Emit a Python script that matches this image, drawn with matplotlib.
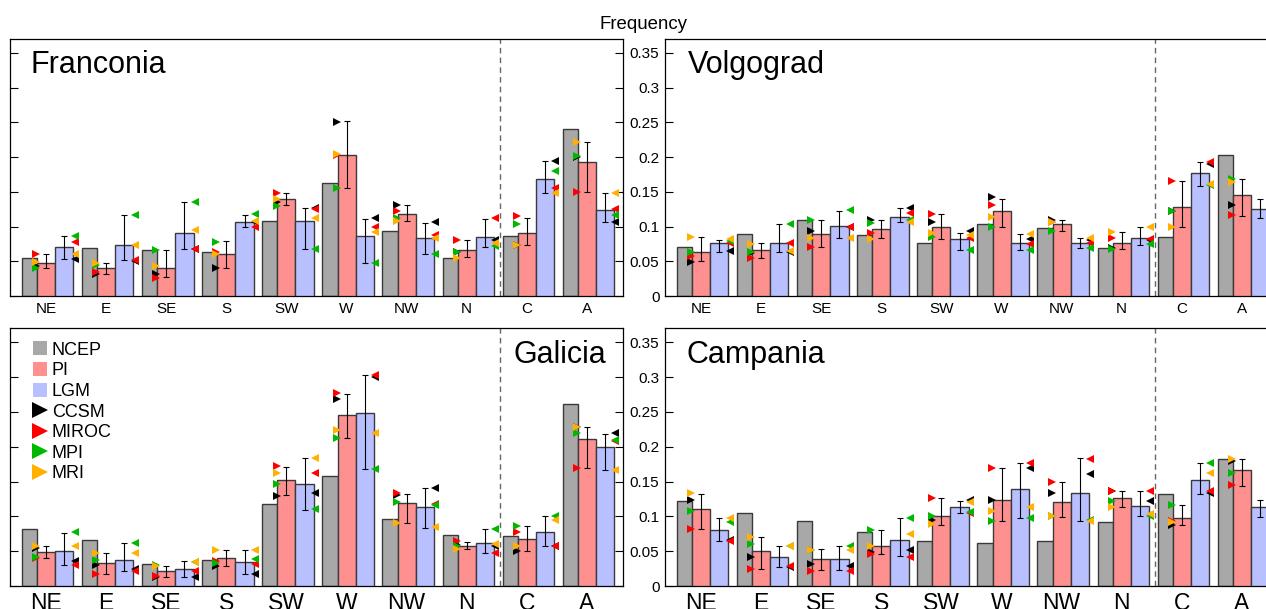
import numpy as np
import matplotlib
matplotlib.use("Agg")
import matplotlib.pyplot as plt
from matplotlib.lines import Line2D

plt.rcParams['font.family'] = ['Liberation Sans', 'DejaVu Sans']

types = ["NE", "E", "SE", "S", "SW", "W", "NW", "N", "C", "A"]
models = ["CCSM", "MIROC", "MPI", "MRI"]
model_colors = ["#000000", "#ff0000", "#00b800", "#ffb000"]

# ---- Franconia
fra_ncep = [0.054, 0.069, 0.066, 0.064, 0.108, 0.162, 0.093, 0.054, 0.086, 0.241]
fra_pi = [0.048, 0.040, 0.041, 0.060, 0.139, 0.203, 0.118, 0.066, 0.091, 0.193]
fra_lgm = [0.070, 0.074, 0.091, 0.107, 0.108, 0.087, 0.084, 0.085, 0.169, 0.124]
fra_pi_lo = [0.041, 0.031, 0.027, 0.041, 0.131, 0.155, 0.108, 0.056, 0.073, 0.150]
fra_pi_hi = [0.060, 0.047, 0.066, 0.079, 0.149, 0.252, 0.131, 0.080, 0.113, 0.221]
fra_lgm_lo = [0.053, 0.052, 0.067, 0.100, 0.067, 0.048, 0.060, 0.071, 0.148, 0.106]
fra_lgm_hi = [0.087, 0.116, 0.135, 0.116, 0.126, 0.111, 0.105, 0.111, 0.194, 0.149]
fra_pi_ccsm = [0.043, 0.031, 0.032, 0.041, 0.136, 0.251, 0.131, 0.064, 0.073, 0.200]
fra_pi_miroc = [0.060, 0.034, 0.026, 0.064, 0.149, 0.203, 0.122, 0.080, 0.115, 0.150]
fra_pi_mpi = [0.041, 0.045, 0.066, 0.078, 0.130, 0.155, 0.113, 0.064, 0.103, 0.202]
fra_pi_mri = [0.049, 0.048, 0.043, 0.060, 0.139, 0.204, 0.108, 0.055, 0.074, 0.221]
fra_lgm_ccsm = [0.053, 0.051, 0.067, 0.106, 0.126, 0.112, 0.106, 0.080, 0.194, 0.106]
fra_lgm_miroc = [0.078, 0.052, 0.067, 0.100, 0.125, 0.099, 0.088, 0.112, 0.155, 0.125]
fra_lgm_mpi = [0.087, 0.117, 0.135, 0.118, 0.068, 0.048, 0.061, 0.072, 0.180, 0.117]
fra_lgm_mri = [0.061, 0.074, 0.095, 0.108, 0.113, 0.092, 0.083, 0.076, 0.148, 0.149]

# ---- Volgograd
vol_ncep = [0.071, 0.089, 0.109, 0.088, 0.077, 0.103, 0.098, 0.069, 0.085, 0.203]
vol_pi = [0.064, 0.066, 0.089, 0.096, 0.100, 0.122, 0.103, 0.077, 0.128, 0.145]
vol_lgm = [0.076, 0.077, 0.101, 0.114, 0.082, 0.077, 0.077, 0.083, 0.177, 0.125]
vol_pi_lo = [0.050, 0.054, 0.070, 0.083, 0.082, 0.100, 0.094, 0.067, 0.100, 0.115]
vol_pi_hi = [0.085, 0.076, 0.110, 0.109, 0.118, 0.140, 0.109, 0.092, 0.166, 0.168]
vol_lgm_lo = [0.064, 0.064, 0.083, 0.106, 0.066, 0.066, 0.069, 0.074, 0.159, 0.113]
vol_lgm_hi = [0.081, 0.103, 0.123, 0.126, 0.090, 0.089, 0.083, 0.100, 0.193, 0.139]
vol_pi_ccsm = [0.049, 0.062, 0.093, 0.110, 0.107, 0.142, 0.110, 0.069, 0.122, 0.131]
vol_pi_miroc = [0.057, 0.055, 0.070, 0.090, 0.118, 0.131, 0.107, 0.083, 0.166, 0.116]
vol_pi_mpi = [0.064, 0.063, 0.110, 0.105, 0.085, 0.100, 0.093, 0.068, 0.122, 0.169]
vol_pi_mri = [0.085, 0.075, 0.083, 0.082, 0.090, 0.114, 0.106, 0.092, 0.100, 0.164]
vol_lgm_ccsm = [0.065, 0.064, 0.099, 0.126, 0.093, 0.082, 0.081, 0.081, 0.190, 0.114]
vol_lgm_miroc = [0.076, 0.076, 0.100, 0.119, 0.083, 0.075, 0.077, 0.082, 0.193, 0.130]
vol_lgm_mpi = [0.079, 0.104, 0.124, 0.109, 0.066, 0.066, 0.069, 0.075, 0.160, 0.125]
vol_lgm_mri = [0.082, 0.065, 0.083, 0.106, 0.088, 0.089, 0.083, 0.100, 0.161, 0.140]

# ---- Galicia
gal_ncep = [0.082, 0.066, 0.031, 0.038, 0.118, 0.158, 0.096, 0.073, 0.072, 0.261]
gal_pi = [0.049, 0.033, 0.021, 0.040, 0.152, 0.245, 0.119, 0.057, 0.068, 0.211]
gal_lgm = [0.050, 0.038, 0.025, 0.035, 0.146, 0.248, 0.114, 0.062, 0.078, 0.200]
gal_pi_lo = [0.040, 0.017, 0.013, 0.028, 0.130, 0.213, 0.090, 0.053, 0.050, 0.170]
gal_pi_hi = [0.057, 0.047, 0.029, 0.051, 0.171, 0.276, 0.132, 0.063, 0.086, 0.229]
gal_lgm_lo = [0.030, 0.022, 0.013, 0.017, 0.109, 0.168, 0.083, 0.047, 0.058, 0.167]
gal_lgm_hi = [0.076, 0.062, 0.036, 0.051, 0.184, 0.303, 0.141, 0.082, 0.100, 0.218]
gal_pi_ccsm = [0.055, 0.030, 0.013, 0.028, 0.129, 0.269, 0.131, 0.059, 0.050, 0.229]
gal_pi_miroc = [0.040, 0.017, 0.014, 0.036, 0.172, 0.277, 0.133, 0.064, 0.078, 0.170]
gal_pi_mpi = [0.042, 0.038, 0.030, 0.033, 0.147, 0.213, 0.121, 0.057, 0.086, 0.219]
gal_pi_mri = [0.057, 0.047, 0.028, 0.051, 0.162, 0.224, 0.091, 0.053, 0.058, 0.229]
gal_lgm_ccsm = [0.036, 0.024, 0.013, 0.017, 0.133, 0.300, 0.141, 0.057, 0.058, 0.219]
gal_lgm_miroc = [0.030, 0.022, 0.022, 0.032, 0.162, 0.303, 0.118, 0.047, 0.058, 0.208]
gal_lgm_mpi = [0.077, 0.062, 0.034, 0.039, 0.110, 0.168, 0.116, 0.082, 0.101, 0.210]
gal_lgm_mri = [0.057, 0.047, 0.035, 0.051, 0.184, 0.219, 0.084, 0.061, 0.095, 0.167]

# ---- Campania
cam_ncep = [0.122, 0.105, 0.093, 0.078, 0.065, 0.062, 0.064, 0.092, 0.132, 0.182]
cam_pi = [0.111, 0.050, 0.039, 0.057, 0.101, 0.123, 0.120, 0.126, 0.097, 0.167]
cam_lgm = [0.080, 0.042, 0.039, 0.066, 0.113, 0.139, 0.134, 0.115, 0.152, 0.113]
cam_pi_lo = [0.082, 0.024, 0.023, 0.046, 0.088, 0.093, 0.099, 0.113, 0.087, 0.144]
cam_pi_hi = [0.132, 0.071, 0.053, 0.080, 0.126, 0.170, 0.149, 0.136, 0.116, 0.182]
cam_lgm_lo = [0.064, 0.027, 0.023, 0.043, 0.105, 0.097, 0.093, 0.100, 0.132, 0.099]
cam_lgm_hi = [0.098, 0.058, 0.057, 0.098, 0.122, 0.176, 0.184, 0.136, 0.176, 0.123]
cam_pi_ccsm = [0.124, 0.042, 0.032, 0.049, 0.095, 0.123, 0.133, 0.136, 0.088, 0.179]
cam_pi_miroc = [0.082, 0.025, 0.022, 0.046, 0.127, 0.170, 0.149, 0.136, 0.094, 0.145]
cam_pi_mpi = [0.107, 0.061, 0.052, 0.081, 0.101, 0.094, 0.100, 0.122, 0.117, 0.162]
cam_pi_mri = [0.133, 0.071, 0.052, 0.057, 0.089, 0.107, 0.101, 0.113, 0.092, 0.182]
cam_lgm_ccsm = [0.066, 0.027, 0.028, 0.051, 0.124, 0.170, 0.161, 0.122, 0.134, 0.120]
cam_lgm_miroc = [0.064, 0.028, 0.022, 0.042, 0.105, 0.177, 0.183, 0.137, 0.137, 0.110]
cam_lgm_mpi = [0.092, 0.058, 0.058, 0.097, 0.106, 0.098, 0.095, 0.100, 0.177, 0.105]
cam_lgm_mri = [0.097, 0.057, 0.052, 0.074, 0.120, 0.114, 0.094, 0.103, 0.162, 0.125]

regions = [
    ("Franconia", fra_ncep, fra_pi, fra_lgm, fra_pi_lo, fra_pi_hi, fra_lgm_lo, fra_lgm_hi,
     [fra_pi_ccsm, fra_pi_miroc, fra_pi_mpi, fra_pi_mri],
     [fra_lgm_ccsm, fra_lgm_miroc, fra_lgm_mpi, fra_lgm_mri]),
    ("Volgograd", vol_ncep, vol_pi, vol_lgm, vol_pi_lo, vol_pi_hi, vol_lgm_lo, vol_lgm_hi,
     [vol_pi_ccsm, vol_pi_miroc, vol_pi_mpi, vol_pi_mri],
     [vol_lgm_ccsm, vol_lgm_miroc, vol_lgm_mpi, vol_lgm_mri]),
    ("Galicia", gal_ncep, gal_pi, gal_lgm, gal_pi_lo, gal_pi_hi, gal_lgm_lo, gal_lgm_hi,
     [gal_pi_ccsm, gal_pi_miroc, gal_pi_mpi, gal_pi_mri],
     [gal_lgm_ccsm, gal_lgm_miroc, gal_lgm_mpi, gal_lgm_mri]),
    ("Campania", cam_ncep, cam_pi, cam_lgm, cam_pi_lo, cam_pi_hi, cam_lgm_lo, cam_lgm_hi,
     [cam_pi_ccsm, cam_pi_miroc, cam_pi_mpi, cam_pi_mri],
     [cam_lgm_ccsm, cam_lgm_miroc, cam_lgm_mpi, cam_lgm_mri]),
]

W, H = 1266, 609
fig = plt.figure(figsize=(W / 100, H / 100), dpi=100)


def px_axes(x0, y0, x1, y1):
    # pixel box -> figure fraction; right column runs past the figure edge
    return fig.add_axes([x0 / W, 1 - y1 / H, (x1 - x0) / W, (y1 - y0) / H])


boxes = [(10, 39, 623, 296), (665, 39, 1278, 296),
         (10, 328.3, 623, 586), (665, 328.3, 1278, 586)]
title_pos = [(0.034, 0.869), (0.038, 0.869), (0.821, 0.864), (0.035, 0.864)]

c_ncep, c_pi, c_lgm = "#a8a8a8", "#ff9090", "#b8c0ff"
edge = "#3a3a3a"

for i, (name, ncep, pi, lgm, pi_lo, pi_hi, lgm_lo, lgm_hi, pi_mod, lgm_mod) in enumerate(regions):
    ax = px_axes(*boxes[i])
    x = np.arange(len(types))
    ncep, pi, lgm = np.array(ncep), np.array(pi), np.array(lgm)

    ax.bar(x - 0.276, ncep, 0.254, color=c_ncep, edgecolor=edge, linewidth=1.0, zorder=2)
    ax.bar(x, pi, 0.298, color=c_pi, edgecolor=edge, linewidth=1.0, zorder=3)
    ax.bar(x + 0.302, lgm, 0.305, color=c_lgm, edgecolor=edge, linewidth=1.0, zorder=3)

    ax.errorbar(x, pi, yerr=[pi - np.array(pi_lo), np.array(pi_hi) - pi], fmt="none",
                ecolor="k", elinewidth=0.8, capsize=2.2, capthick=0.8, zorder=4)
    ax.errorbar(x + 0.302, lgm, yerr=[lgm - np.array(lgm_lo), np.array(lgm_hi) - lgm], fmt="none",
                ecolor="k", elinewidth=0.8, capsize=2.2, capthick=0.8, zorder=4)

    for vals, col in zip(pi_mod, model_colors):
        ax.plot(x - 0.165, vals, ">", color=col, ms=5.5, ls="none", mew=0, zorder=5)
    for vals, col in zip(lgm_mod, model_colors):
        ax.plot(x + 0.475, vals, "<", color=col, ms=5.5, ls="none", mew=0, zorder=5)

    ax.axvline(7.55, color="#666666", ls=(0, (4, 3)), lw=1.0, zorder=1)

    ax.set_xlim(-0.6, 9.6)
    ax.set_ylim(0, 0.37)
    ax.set_xticks(x)
    ax.set_xticklabels(types)
    ax.set_yticks(np.arange(0, 0.36, 0.05))
    ax.set_yticklabels(["0", "0.05", "0.1", "0.15", "0.2", "0.25", "0.3", "0.35"])
    ax.tick_params(axis="x", length=0, pad=4, labelsize=11 if i < 2 else 16.5)
    ax.tick_params(axis="y", direction="in", length=6, width=0.8, left=True, right=True,
                   labelleft=(i % 2 == 1), labelsize=11, pad=4)
    for sp in ax.spines.values():
        sp.set_linewidth(0.9)

    ax.text(title_pos[i][0], title_pos[i][1], name, transform=ax.transAxes,
            fontsize=22, ha="left", va="baseline")

    if name == "Galicia":
        handles = [Line2D([], [], marker="s", ls="none", color=c, ms=10, mew=0)
                   for c in (c_ncep, c_pi, c_lgm)]
        handles += [Line2D([], [], marker=">", ls="none", color=c, ms=11, mew=0)
                    for c in model_colors]
        ax.legend(handles, ["NCEP", "PI", "LGM"] + models, loc="upper left",
                  bbox_to_anchor=(0.0375, 0.948), frameon=False, fontsize=13,
                  borderpad=0, borderaxespad=0, handlelength=0.8, handletextpad=0.25,
                  labelspacing=0.2)

fig.text(643.5 / W, 1 - 29.3 / H, "Frequency", ha="center", va="baseline", fontsize=13.4)

fig.savefig("out.png", dpi=100)
